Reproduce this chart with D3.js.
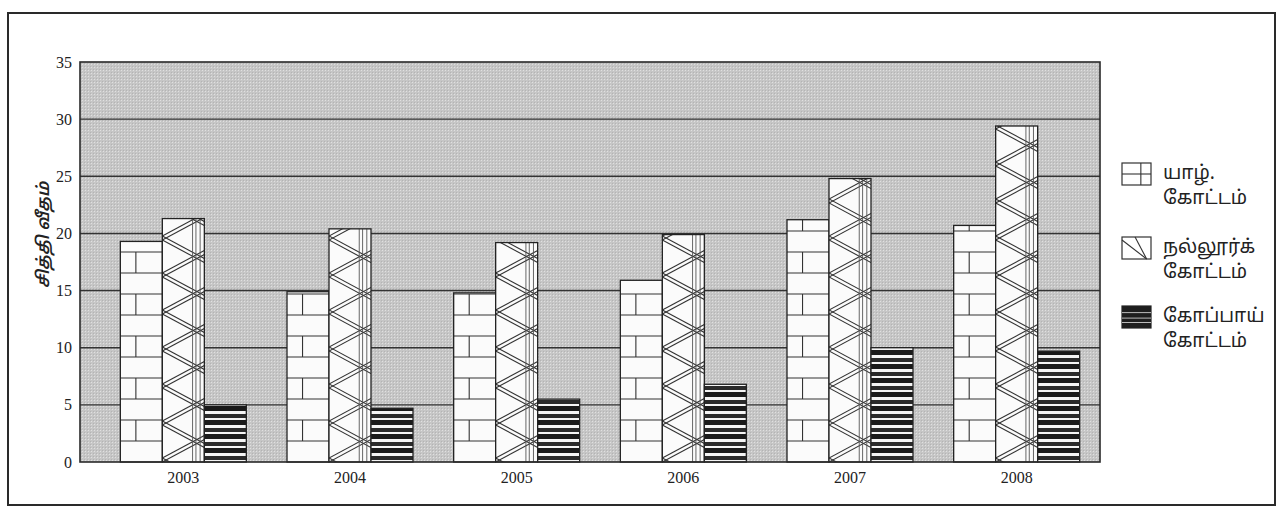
<!DOCTYPE html>
<html>
<head>
<meta charset="utf-8">
<script src="https://cdn.jsdelivr.net/npm/d3@7"></script>
<style>
  html, body { margin: 0; padding: 0; background: #fff; }
  svg { display: block; }
</style>
</head>
<body>
<svg id="chart" width="1280" height="511"></svg>
<script>
// ---- data ----
const years = ["2003", "2004", "2005", "2006", "2007", "2008"];
const seriesNames = ["யாழ். கோட்டம்", "நல்லூர்க் கோட்டம்", "கோப்பாய் கோட்டம்"];
const legendLines = [["யாழ்.", "கோட்டம்"], ["நல்லூர்க்", "கோட்டம்"], ["கோப்பாய்", "கோட்டம்"]];
const yarl   = [19.3, 14.9, 14.8, 15.9, 21.2, 20.7];
const nallur = [21.3, 20.4, 19.2, 19.9, 24.8, 29.4];
const kopay  = [5.0, 4.7, 5.5, 6.8, 10.0, 9.7];
const yTicks = [0, 5, 10, 15, 20, 25, 30, 35];
const yLabel = "சித்தி வீதம்";

const seriesValues = [yarl, nallur, kopay];
const tamilFont = "'Noto Sans Tamil', 'Lohit Tamil', 'Latha', 'Noto Sans', 'DejaVu Sans', sans-serif";
const serifFont = "'Liberation Serif', 'DejaVu Serif', serif";

const svg = d3.select("#chart");
const defs = svg.append("defs");

// outer frame
svg.append("rect").attr("x", 8).attr("y", 13).attr("width", 1267).attr("height", 492)
  .attr("fill", "none").attr("stroke", "#2a2a2a").attr("stroke-width", 2);

const plot = { left: 80, right: 1100, top: 62, bottom: 462 };

const y = d3.scaleLinear().domain([0, 35]).range([plot.bottom, plot.top]);
const x0 = d3.scaleBand().domain(years).range([100, 1100]).paddingInner(0.244).paddingOuter(0.122);
const x1 = d3.scaleBand().domain(d3.range(3)).range([0, x0.bandwidth()]);

// halftone gray background pattern
const bg = defs.append("pattern").attr("id", "halftone").attr("patternUnits", "userSpaceOnUse")
  .attr("width", 3).attr("height", 3);
bg.append("rect").attr("width", 3).attr("height", 3).attr("fill", "#c6c6c6");
bg.append("rect").attr("x", 1).attr("y", 1).attr("width", 1).attr("height", 1).attr("fill", "#e0e0e0");
bg.append("rect").attr("x", 0).attr("y", 0).attr("width", 1).attr("height", 1).attr("fill", "#b4b4b4");

svg.append("rect").attr("x", plot.left).attr("y", plot.top)
  .attr("width", plot.right - plot.left).attr("height", plot.bottom - plot.top)
  .attr("fill", "url(#halftone)");

// gridlines
svg.append("g").selectAll("line").data(yTicks.filter(t => t > 0 && t < 35)).join("line")
  .attr("x1", plot.left).attr("x2", plot.right)
  .attr("y1", d => y(d)).attr("y2", d => y(d))
  .attr("stroke", "#333").attr("stroke-width", 1.4);

// y axis with D3
const yAxis = d3.axisLeft(y).tickValues(yTicks).tickSize(0).tickPadding(8);
const yg = svg.append("g").attr("transform", `translate(${plot.left},0)`).call(yAxis);
yg.select(".domain").remove();
yg.selectAll("text").attr("font-family", serifFont).attr("font-size", 16).attr("fill", "#222");

// x axis labels
const xAxis = d3.axisBottom(x0).tickSize(0).tickPadding(10);
const xg = svg.append("g").attr("transform", `translate(0,${plot.bottom})`).call(xAxis);
xg.select(".domain").remove();
xg.selectAll("text").attr("font-family", serifFont).attr("font-size", 16).attr("fill", "#222");

// stripes pattern for Kopay
const sp = defs.append("pattern").attr("id", "stripes").attr("patternUnits", "userSpaceOnUse")
  .attr("width", 10).attr("height", 14).attr("y", plot.bottom);
sp.append("rect").attr("width", 10).attr("height", 14).attr("fill", "#f4f4f4");
sp.append("rect").attr("y", 0).attr("width", 10).attr("height", 5).attr("fill", "#1a1a1a");
sp.append("rect").attr("y", 8).attr("width", 10).attr("height", 4).attr("fill", "#2a2a2a");

const bars = [];
years.forEach((yr, i) => {
  seriesValues.forEach((vals, s) => {
    bars.push({ yr, i, s, v: vals[i] });
  });
});

const barG = svg.append("g");
bars.forEach((b, idx) => {
  const bx = x0(b.yr) + x1(b.s);
  const bw = x1.bandwidth();
  const by = y(b.v);
  const bh = y(0) - y(b.v);
  const g = barG.append("g");
  const clipId = "clip" + idx;
  defs.append("clipPath").attr("id", clipId).append("rect")
    .attr("x", bx).attr("y", by).attr("width", bw).attr("height", bh);

  if (b.s === 2) {
    g.append("rect").attr("x", bx).attr("y", by).attr("width", bw).attr("height", bh)
      .attr("fill", "url(#stripes)");
  } else {
    g.append("rect").attr("x", bx).attr("y", by).attr("width", bw).attr("height", bh)
      .attr("fill", "#fbfbfb");
    const inner = g.append("g").attr("clip-path", `url(#${clipId})`);
    if (b.s === 0) {
      // brick pattern, rows from bottom
      const rowH = 21;
      const nRows = Math.ceil(bh / rowH);
      for (let r = 1; r <= nRows; r++) {
        const ly = y(0) - r * rowH;
        if (ly > by) {
          inner.append("line").attr("x1", bx).attr("x2", bx + bw).attr("y1", ly).attr("y2", ly)
            .attr("stroke", "#333").attr("stroke-width", 1.1);
        }
      }
      for (let r = 1; r < nRows; r += 2) {
        const yb = y(0) - r * rowH;
        const yt = Math.max(by, yb - rowH);
        const vx = bx + bw * 0.37;
        inner.append("line").attr("x1", vx).attr("x2", vx).attr("y1", yb).attr("y2", yt)
          .attr("stroke", "#333").attr("stroke-width", 1.1);
      }
    } else {
      // crossing double diagonals + vertical lines
      const P = 37;
      const xc = bw * 0.82;
      const sl = P / (2 * xc);
      const nK = Math.ceil(bh / P) + 3;
      for (let k = -2; k <= nK; k++) {
        for (const off of [0, 4]) {
          const base = y(0) - k * P - off;
          inner.append("line")
            .attr("x1", bx).attr("y1", base)
            .attr("x2", bx + bw).attr("y2", base + sl * bw)
            .attr("stroke", "#333").attr("stroke-width", 1.1);
          inner.append("line")
            .attr("x1", bx).attr("y1", base)
            .attr("x2", bx + bw).attr("y2", base - sl * bw)
            .attr("stroke", "#333").attr("stroke-width", 1.1);
        }
      }
      [0.72, 0.8, 0.9].forEach(f => {
        inner.append("line").attr("x1", bx + bw * f).attr("x2", bx + bw * f)
          .attr("y1", by).attr("y2", y(0))
          .attr("stroke", "#555").attr("stroke-width", 0.9);
      });
    }
  }
  g.append("rect").attr("x", bx).attr("y", by).attr("width", bw).attr("height", bh)
    .attr("fill", "none").attr("stroke", "#222").attr("stroke-width", 1.3);
});

// plot border (drawn on top)
svg.append("rect").attr("x", plot.left).attr("y", plot.top)
  .attr("width", plot.right - plot.left).attr("height", plot.bottom - plot.top)
  .attr("fill", "none").attr("stroke", "#2a2a2a").attr("stroke-width", 1.6);

// y label
svg.append("text").attr("transform", "translate(49,235) rotate(-90)")
  .attr("text-anchor", "middle").attr("font-family", tamilFont).attr("font-size", 17)
  .attr("font-style", "italic").attr("font-weight", 600).attr("fill", "#222").text(yLabel);

// legend
const legendY = [163, 237, 306];
const lg = svg.append("g");
legendLines.forEach((lines, s) => {
  const px = 1122, py = legendY[s], pw = 29, ph = 22;
  if (s === 0) {
    lg.append("rect").attr("x", px).attr("y", py).attr("width", pw).attr("height", ph)
      .attr("fill", "#fff").attr("stroke", "#333").attr("stroke-width", 1.2);
    lg.append("line").attr("x1", px).attr("x2", px + pw).attr("y1", py + ph * 0.5).attr("y2", py + ph * 0.5)
      .attr("stroke", "#333").attr("stroke-width", 1.1);
    lg.append("line").attr("x1", px + pw * 0.65).attr("x2", px + pw * 0.65).attr("y1", py).attr("y2", py + ph)
      .attr("stroke", "#333").attr("stroke-width", 1.1);
  } else if (s === 1) {
    lg.append("rect").attr("x", px).attr("y", py).attr("width", pw).attr("height", ph)
      .attr("fill", "#fff").attr("stroke", "#333").attr("stroke-width", 1.2);
    lg.append("line").attr("x1", px).attr("y1", py + 3).attr("x2", px + pw * 0.85).attr("y2", py + ph)
      .attr("stroke", "#333").attr("stroke-width", 1.1);
    lg.append("line").attr("x1", px + pw * 0.45).attr("y1", py).attr("x2", px + pw * 0.85).attr("y2", py + ph)
      .attr("stroke", "#333").attr("stroke-width", 1.1);
  } else {
    lg.append("rect").attr("x", px).attr("y", py).attr("width", pw).attr("height", ph)
      .attr("fill", "#1e1e1e").attr("stroke", "#222").attr("stroke-width", 1.2);
    [0.3, 0.55, 0.75].forEach(f => {
      lg.append("line").attr("x1", px).attr("x2", px + pw).attr("y1", py + ph * f).attr("y2", py + ph * f)
        .attr("stroke", "#bbb").attr("stroke-width", 1);
    });
  }
  lines.forEach((t, li) => {
    lg.append("text").attr("x", 1163).attr("y", py + 16 + li * 25)
      .attr("font-family", tamilFont).attr("font-size", 19).attr("fill", "#222").text(t);
  });
});
</script>
</body>
</html>
